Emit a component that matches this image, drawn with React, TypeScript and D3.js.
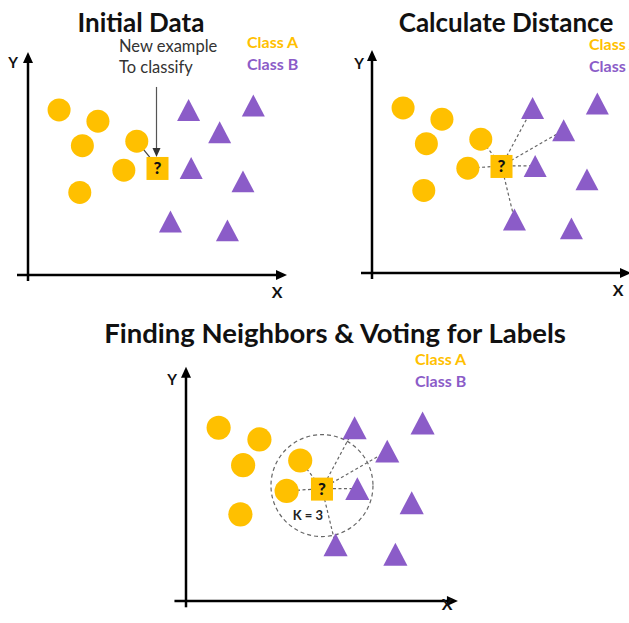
import React from 'react';
import * as d3 from 'd3';

// training points (data units, both axes 0..10)
const classAX = [1.2, 2.7, 2.1, 4.2, 3.7, 2.0];
const classAY = [7.4, 6.9, 5.8, 6.0, 4.7, 3.7];
const classBX = [6.2, 7.4, 8.7, 6.3, 8.3, 5.5, 7.7];
const classBY = [7.4, 6.4, 7.6, 4.8, 4.2, 2.4, 2.0];
const queryPoint = { x: 5.0, y: 4.8 };
const kValue = 3;
const linkedCount = 6;
const legendLabels = ['Class A', 'Class B'];
const panelTitles = ['Initial Data', 'Calculate Distance', 'Finding Neighbors & Voting for Labels'];
const noteLines = ['New example', 'To classify'];

const ORANGE = '#FFC000';
const PURPLE = '#8B5CC8';
const FONT = "Lato, 'Open Sans', sans-serif";

interface PanelCfg {
  title: string;
  titleX: number;
  titleY: number;
  titleSize: number;
  ox: number;
  oy: number;
  k: number;
  legendX: number;
  legendY: number;
  mode: 'initial' | 'distance' | 'vote';
  yLabel: [number, number];
  xLabel: [number, number];
}

const panels: PanelCfg[] = [
  { title: panelTitles[0], titleX: 141, titleY: 32, titleSize: 26, ox: 28, oy: 275, k: 1, legendX: 247, legendY: 48, mode: 'initial', yLabel: [13, 68], xLabel: [277, 298] },
  { title: panelTitles[1], titleX: 506, titleY: 32, titleSize: 26, ox: 372, oy: 273, k: 1, legendX: 589, legendY: 50, mode: 'distance', yLabel: [359, 69], xLabel: [618, 296] },
  { title: panelTitles[2], titleX: 335, titleY: 343, titleSize: 27.5, ox: 186, oy: 601, k: 1.05, legendX: 415, legendY: 365, mode: 'vote', yLabel: [172, 385], xLabel: [447, 610] },
];

const points = [
  ...classAX.map((x, i) => ({ x, y: classAY[i], cls: 'A' })),
  ...classBX.map((x, i) => ({ x, y: classBY[i], cls: 'B' })),
];

function triPath(cx: number, cy: number, s: number) {
  const h = s * 0.95;
  return `M${cx},${cy - h / 2}L${cx + s / 2},${cy + h / 2}L${cx - s / 2},${cy + h / 2}Z`;
}

const Panel: React.FC<{ cfg: PanelCfg }> = ({ cfg }) => {
  const x = d3.scaleLinear().domain([0, 10]).range([cfg.ox, cfg.ox + 259 * cfg.k]);
  const y = d3.scaleLinear().domain([0, 10]).range([cfg.oy, cfg.oy - 223 * cfg.k]);
  const qx = x(queryPoint.x);
  const qy = y(queryPoint.y);
  const r = 11.5 * cfg.k;
  const tri = 23 * cfg.k;
  const sq = 22;

  // nearest points to the query, in screen distance
  const nearest = points
    .map((p) => ({ ...p, d: Math.hypot(x(p.x) - qx, y(p.y) - qy) }))
    .sort((a, b) => a.d - b.d)
    .slice(0, linkedCount);

  const ax0 = x(0), ay0 = y(0), axTip = x(10), ayTip = y(10);

  return (
    <g>
      <text x={cfg.titleX} y={cfg.titleY} textAnchor="middle" fontFamily={FONT} fontWeight={700} fontSize={cfg.titleSize} fill="#111">
        {cfg.title}
      </text>
      {legendLabels.map((l, i) => (
        <text key={l} x={cfg.legendX} y={cfg.legendY + i * 22} fontFamily={FONT} fontWeight={700} fontSize={16} fill={i === 0 ? ORANGE : PURPLE}>
          {l}
        </text>
      ))}

      {/* axes */}
      <line x1={ax0} y1={ay0 + 6 * cfg.k} x2={ax0} y2={ayTip + 8} stroke="#000" strokeWidth={2.5} />
      <path d={`M${ax0},${ayTip}L${ax0 + 5},${ayTip + 11}L${ax0 - 5},${ayTip + 11}Z`} fill="#000" />
      <line x1={ax0 - 11 * cfg.k} y1={ay0} x2={axTip - 8} y2={ay0} stroke="#000" strokeWidth={2.5} />
      <path d={`M${axTip},${ay0}L${axTip - 11},${ay0 - 5}L${axTip - 11},${ay0 + 5}Z`} fill="#000" />
      <text x={cfg.yLabel[0]} y={cfg.yLabel[1]} textAnchor="middle" fontFamily={FONT} fontWeight={700} fontSize={15} fill="#111">Y</text>
      <text x={cfg.xLabel[0]} y={cfg.xLabel[1]} textAnchor="middle" fontFamily={FONT} fontWeight={700} fontSize={16} fill="#111">X</text>

      {/* links */}
      {cfg.mode === 'initial' && (
        <g>
          <line x1={x(classAX[3])} y1={y(classAY[3])} x2={qx - 4} y2={qy - 6} stroke="#444" strokeWidth={1.2} />
          <line x1={qx - 1} y1={qy - 81} x2={qx - 1} y2={qy - 18} stroke="#555" strokeWidth={1.2} />
          <path d={`M${qx - 1},${qy - 11}L${qx - 5},${qy - 20}L${qx + 3},${qy - 20}Z`} fill="#333" />
          {noteLines.map((t, i) => (
            <text key={t} x={119} y={52 + i * 21} fontFamily={FONT} fontSize={16.5} fill="#333">{t}</text>
          ))}
        </g>
      )}
      {cfg.mode !== 'initial' &&
        nearest.map((p, i) => (
          <line key={i} x1={qx} y1={qy} x2={x(p.x)} y2={y(p.y)} stroke="#666" strokeWidth={1.2} strokeDasharray="3,2.5" />
        ))}
      {cfg.mode === 'vote' && (
        <g>
          <circle cx={qx} cy={qy - 3} r={51} fill="none" stroke="#666" strokeWidth={1.2} strokeDasharray="4,3" />
          <text x={qx - 14} y={qy + 31} textAnchor="middle" fontFamily={FONT} fontWeight={700} fontSize={13} fill="#222">
            K = {kValue}
          </text>
        </g>
      )}

      {/* points */}
      {points.map((p, i) =>
        p.cls === 'A' ? (
          <circle key={i} cx={x(p.x)} cy={y(p.y)} r={r} fill={ORANGE} />
        ) : (
          <path key={i} d={triPath(x(p.x), y(p.y), tri)} fill={PURPLE} />
        )
      )}
      <rect x={qx - sq / 2} y={qy - sq / 2} width={sq} height={sq + 1} fill={ORANGE} />
      <text x={qx} y={qy + 6} textAnchor="middle" fontFamily={FONT} fontWeight={900} fontSize={17} fill="#111">?</text>
    </g>
  );
};

export default function App() {
  return (
    <div style={{ position: 'absolute', left: 0, top: 0 }}>
      <svg width={629} height={623} style={{ display: 'block', background: '#fff' }}>
        {panels.map((p, i) => (
          <Panel key={i} cfg={p} />
        ))}
      </svg>
    </div>
  );
}
